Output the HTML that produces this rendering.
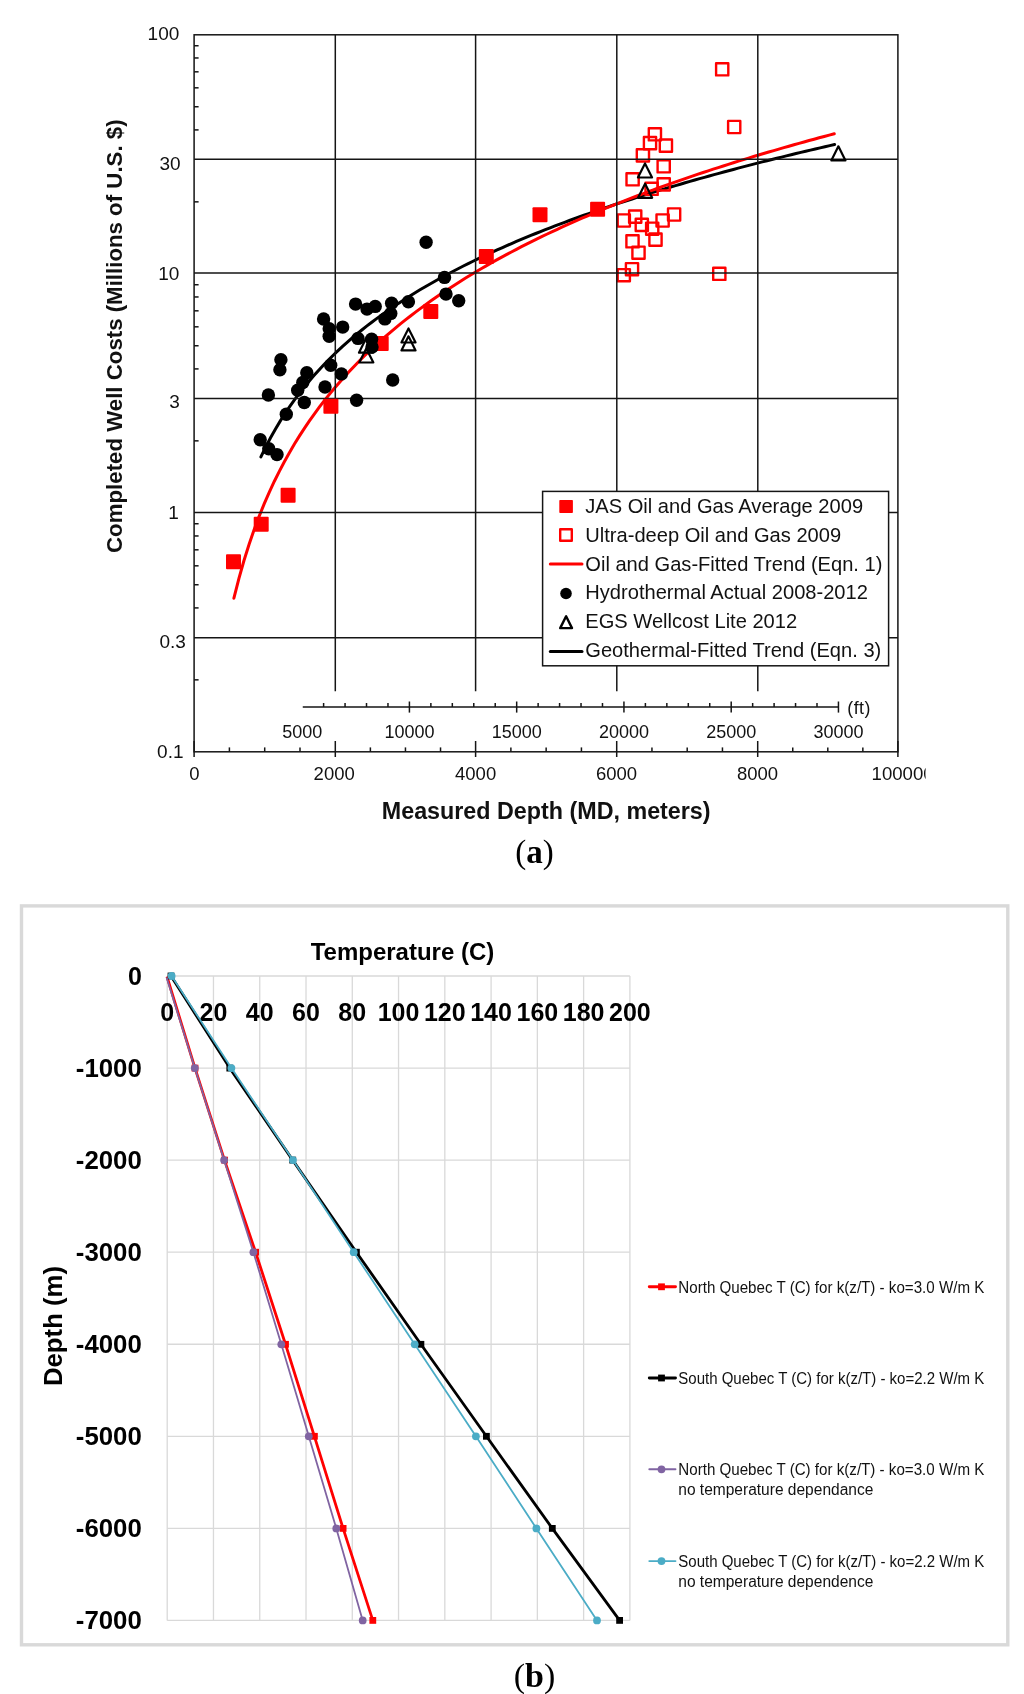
<!DOCTYPE html>
<html><head><meta charset="utf-8"><title>Well costs and temperature profiles</title>
<style>html,body{margin:0;padding:0;background:#fff;width:1024px;height:1694px;overflow:hidden}svg{display:block;will-change:transform}</style>
</head><body>
<svg width="1024" height="1694" viewBox="0 0 1024 1694">
<rect width="1024" height="1694" fill="#fff"/>
<path d="M260.90,456.92 L265.72,447.00 L270.54,437.79 L275.36,429.19 L280.18,421.14 L285.01,413.56 L289.83,406.40 L294.65,399.62 L299.47,393.18 L304.29,387.04 L309.11,381.18 L313.93,375.58 L318.75,370.20 L323.57,365.04 L328.39,360.08 L333.22,355.30 L338.04,350.68 L342.86,346.22 L347.68,341.91 L352.50,337.74 L357.32,333.69 L362.14,329.76 L366.96,325.94 L371.78,322.23 L376.60,318.62 L381.43,315.10 L386.25,311.68 L391.07,308.33 L395.89,305.07 L400.71,301.89 L405.53,298.77 L410.35,295.73 L415.17,292.75 L419.99,289.84 L424.81,286.98 L429.64,284.18 L434.46,281.44 L439.28,278.75 L444.10,276.12 L448.92,273.53 L453.74,270.98 L458.56,268.49 L463.38,266.03 L468.20,263.62 L473.02,261.25 L477.85,258.91 L482.67,256.62 L487.49,254.36 L492.31,252.13 L497.13,249.94 L501.95,247.78 L506.77,245.66 L511.59,243.56 L516.41,241.49 L521.23,239.46 L526.06,237.45 L530.88,235.47 L535.70,233.51 L540.52,231.58 L545.34,229.67 L550.16,227.79 L554.98,225.93 L559.80,224.10 L564.62,222.29 L569.44,220.50 L574.27,218.73 L579.09,216.98 L583.91,215.25 L588.73,213.54 L593.55,211.85 L598.37,210.17 L603.19,208.52 L608.01,206.88 L612.83,205.26 L617.65,203.66 L622.48,202.08 L627.30,200.51 L632.12,198.95 L636.94,197.41 L641.76,195.89 L646.58,194.38 L651.40,192.89 L656.22,191.41 L661.04,189.94 L665.86,188.49 L670.69,187.05 L675.51,185.63 L680.33,184.21 L685.15,182.81 L689.97,181.42 L694.79,180.05 L699.61,178.68 L704.43,177.33 L709.25,175.99 L714.07,174.66 L718.90,173.34 L723.72,172.03 L728.54,170.73 L733.36,169.44 L738.18,168.16 L743.00,166.89 L747.82,165.64 L752.64,164.39 L757.46,163.15 L762.28,161.92 L767.11,160.70 L771.93,159.49 L776.75,158.28 L781.57,157.09 L786.39,155.91 L791.21,154.73 L796.03,153.56 L800.85,152.40 L805.67,151.25 L810.49,150.10 L815.32,148.97 L820.14,147.84 L824.96,146.72 L829.78,145.60 L834.60,144.50" stroke="#000" stroke-width="3" fill="none" stroke-linecap="round"/>
<path d="M233.90,598.23 L238.95,578.30 L243.99,560.51 L249.04,544.44 L254.08,529.79 L259.13,516.33 L264.17,503.88 L269.22,492.30 L274.26,481.47 L279.31,471.31 L284.35,461.73 L289.40,452.67 L294.44,444.08 L299.49,435.91 L304.54,428.12 L309.58,420.68 L314.63,413.56 L319.67,406.73 L324.72,400.17 L329.76,393.86 L334.81,387.77 L339.85,381.90 L344.90,376.23 L349.94,370.74 L354.99,365.43 L360.03,360.28 L365.08,355.29 L370.13,350.44 L375.17,345.72 L380.22,341.14 L385.26,336.68 L390.31,332.33 L395.35,328.09 L400.40,323.96 L405.44,319.92 L410.49,315.98 L415.53,312.13 L420.58,308.37 L425.62,304.69 L430.67,301.08 L435.72,297.56 L440.76,294.10 L445.81,290.72 L450.85,287.40 L455.90,284.14 L460.94,280.95 L465.99,277.81 L471.03,274.74 L476.08,271.71 L481.12,268.75 L486.17,265.83 L491.21,262.96 L496.26,260.14 L501.31,257.37 L506.35,254.64 L511.40,251.95 L516.44,249.31 L521.49,246.70 L526.53,244.14 L531.58,241.61 L536.62,239.12 L541.67,236.67 L546.71,234.25 L551.76,231.87 L556.80,229.52 L561.85,227.20 L566.89,224.91 L571.94,222.65 L576.99,220.42 L582.03,218.22 L587.08,216.05 L592.12,213.91 L597.17,211.79 L602.21,209.70 L607.26,207.64 L612.30,205.60 L617.35,203.58 L622.39,201.59 L627.44,199.62 L632.48,197.67 L637.53,195.74 L642.58,193.84 L647.62,191.95 L652.67,190.09 L657.71,188.25 L662.76,186.43 L667.80,184.62 L672.85,182.84 L677.89,181.07 L682.94,179.32 L687.98,177.59 L693.03,175.88 L698.07,174.18 L703.12,172.50 L708.17,170.84 L713.21,169.19 L718.26,167.56 L723.30,165.95 L728.35,164.35 L733.39,162.76 L738.44,161.19 L743.48,159.63 L748.53,158.09 L753.57,156.56 L758.62,155.04 L763.66,153.54 L768.71,152.05 L773.76,150.57 L778.80,149.11 L783.85,147.65 L788.89,146.21 L793.94,144.79 L798.98,143.37 L804.03,141.97 L809.07,140.57 L814.12,139.19 L819.16,137.82 L824.21,136.46 L829.25,135.11 L834.30,133.77" stroke="#f00" stroke-width="3" fill="none" stroke-linecap="round"/>
<g fill="none" stroke="#f00" stroke-width="2.4" stroke-linejoin="round">
<rect x="716.10" y="63.20" width="12.2" height="12.2"/>
<rect x="728.10" y="120.90" width="12.2" height="12.2"/>
<rect x="648.80" y="128.20" width="12.2" height="12.2"/>
<rect x="643.90" y="137.00" width="12.2" height="12.2"/>
<rect x="659.80" y="139.50" width="12.2" height="12.2"/>
<rect x="636.80" y="149.30" width="12.2" height="12.2"/>
<rect x="657.60" y="160.20" width="12.2" height="12.2"/>
<rect x="626.50" y="173.20" width="12.2" height="12.2"/>
<rect x="657.60" y="178.30" width="12.2" height="12.2"/>
<rect x="645.50" y="182.70" width="12.2" height="12.2"/>
<rect x="668.00" y="208.40" width="12.2" height="12.2"/>
<rect x="629.10" y="210.50" width="12.2" height="12.2"/>
<rect x="617.70" y="214.40" width="12.2" height="12.2"/>
<rect x="656.50" y="214.40" width="12.2" height="12.2"/>
<rect x="635.70" y="218.80" width="12.2" height="12.2"/>
<rect x="646.10" y="222.60" width="12.2" height="12.2"/>
<rect x="626.40" y="235.20" width="12.2" height="12.2"/>
<rect x="649.40" y="233.50" width="12.2" height="12.2"/>
<rect x="632.40" y="246.60" width="12.2" height="12.2"/>
<rect x="625.90" y="263.10" width="12.2" height="12.2"/>
<rect x="617.70" y="269.10" width="12.2" height="12.2"/>
<rect x="713.20" y="267.70" width="12.2" height="12.2"/>
</g>
<g stroke="#151515" stroke-width="1.5" fill="none">
<line x1="194.1" y1="159.2" x2="897.9" y2="159.2"/>
<line x1="194.1" y1="273.1" x2="897.9" y2="273.1"/>
<line x1="194.1" y1="398.6" x2="897.9" y2="398.6"/>
<line x1="194.1" y1="512.4" x2="897.9" y2="512.4"/>
<line x1="194.1" y1="637.8" x2="897.9" y2="637.8"/>
<line x1="335.3" y1="34.8" x2="335.3" y2="691.3"/>
<line x1="475.6" y1="34.8" x2="475.6" y2="691.3"/>
<line x1="616.8" y1="34.8" x2="616.8" y2="691.3"/>
<line x1="757.8" y1="34.8" x2="757.8" y2="691.3"/>
<rect x="194.1" y="34.8" width="703.8" height="717.0"/>
<line x1="194.1" y1="45.74" x2="198.6" y2="45.74"/>
<line x1="194.1" y1="57.96" x2="198.6" y2="57.96"/>
<line x1="194.1" y1="71.82" x2="198.6" y2="71.82"/>
<line x1="194.1" y1="87.82" x2="198.6" y2="87.82"/>
<line x1="194.1" y1="106.75" x2="198.6" y2="106.75"/>
<line x1="194.1" y1="129.91" x2="198.6" y2="129.91"/>
<line x1="194.1" y1="201.85" x2="198.6" y2="201.85"/>
<line x1="194.1" y1="284.74" x2="198.6" y2="284.74"/>
<line x1="194.1" y1="296.96" x2="198.6" y2="296.96"/>
<line x1="194.1" y1="310.82" x2="198.6" y2="310.82"/>
<line x1="194.1" y1="326.82" x2="198.6" y2="326.82"/>
<line x1="194.1" y1="345.75" x2="198.6" y2="345.75"/>
<line x1="194.1" y1="368.91" x2="198.6" y2="368.91"/>
<line x1="194.1" y1="440.85" x2="198.6" y2="440.85"/>
<line x1="194.1" y1="523.74" x2="198.6" y2="523.74"/>
<line x1="194.1" y1="535.96" x2="198.6" y2="535.96"/>
<line x1="194.1" y1="549.82" x2="198.6" y2="549.82"/>
<line x1="194.1" y1="565.82" x2="198.6" y2="565.82"/>
<line x1="194.1" y1="584.75" x2="198.6" y2="584.75"/>
<line x1="194.1" y1="607.91" x2="198.6" y2="607.91"/>
<line x1="194.1" y1="679.85" x2="198.6" y2="679.85"/>
<line x1="194.10" y1="741" x2="194.10" y2="757"/>
<line x1="229.40" y1="747.4" x2="229.40" y2="751.8"/>
<line x1="264.70" y1="747.4" x2="264.70" y2="751.8"/>
<line x1="300.00" y1="747.4" x2="300.00" y2="751.8"/>
<line x1="335.30" y1="741" x2="335.30" y2="757"/>
<line x1="370.38" y1="747.4" x2="370.38" y2="751.8"/>
<line x1="405.45" y1="747.4" x2="405.45" y2="751.8"/>
<line x1="440.53" y1="747.4" x2="440.53" y2="751.8"/>
<line x1="475.60" y1="741" x2="475.60" y2="757"/>
<line x1="510.88" y1="747.4" x2="510.88" y2="751.8"/>
<line x1="546.15" y1="747.4" x2="546.15" y2="751.8"/>
<line x1="581.43" y1="747.4" x2="581.43" y2="751.8"/>
<line x1="616.70" y1="741" x2="616.70" y2="757"/>
<line x1="651.95" y1="747.4" x2="651.95" y2="751.8"/>
<line x1="687.20" y1="747.4" x2="687.20" y2="751.8"/>
<line x1="722.45" y1="747.4" x2="722.45" y2="751.8"/>
<line x1="757.70" y1="741" x2="757.70" y2="757"/>
<line x1="792.75" y1="747.4" x2="792.75" y2="751.8"/>
<line x1="827.80" y1="747.4" x2="827.80" y2="751.8"/>
<line x1="862.85" y1="747.4" x2="862.85" y2="751.8"/>
<line x1="897.90" y1="741" x2="897.90" y2="757"/>
<line x1="302.76" y1="707" x2="838.45" y2="707"/>
<line x1="323.61" y1="703" x2="323.61" y2="707"/>
<line x1="345.06" y1="703" x2="345.06" y2="707"/>
<line x1="366.51" y1="703" x2="366.51" y2="707"/>
<line x1="387.97" y1="703" x2="387.97" y2="707"/>
<line x1="409.42" y1="701.5" x2="409.42" y2="712.6"/>
<line x1="430.87" y1="703" x2="430.87" y2="707"/>
<line x1="452.32" y1="703" x2="452.32" y2="707"/>
<line x1="473.77" y1="703" x2="473.77" y2="707"/>
<line x1="495.23" y1="703" x2="495.23" y2="707"/>
<line x1="516.68" y1="701.5" x2="516.68" y2="712.6"/>
<line x1="538.13" y1="703" x2="538.13" y2="707"/>
<line x1="559.58" y1="703" x2="559.58" y2="707"/>
<line x1="581.03" y1="703" x2="581.03" y2="707"/>
<line x1="602.48" y1="703" x2="602.48" y2="707"/>
<line x1="623.94" y1="701.5" x2="623.94" y2="712.6"/>
<line x1="645.39" y1="703" x2="645.39" y2="707"/>
<line x1="666.84" y1="703" x2="666.84" y2="707"/>
<line x1="688.29" y1="703" x2="688.29" y2="707"/>
<line x1="709.74" y1="703" x2="709.74" y2="707"/>
<line x1="731.20" y1="701.5" x2="731.20" y2="712.6"/>
<line x1="752.65" y1="703" x2="752.65" y2="707"/>
<line x1="774.10" y1="703" x2="774.10" y2="707"/>
<line x1="795.55" y1="703" x2="795.55" y2="707"/>
<line x1="817.00" y1="703" x2="817.00" y2="707"/>
<line x1="838.45" y1="701.5" x2="838.45" y2="712.6"/>
</g>
<g font-family="Liberation Sans" fill="#111">
<text x="147.6" y="40.3" font-size="19">100</text>
<text x="159.4" y="169.7" font-size="19">30</text>
<text x="158.2" y="279.7" font-size="19">10</text>
<text x="169.2" y="407.5" font-size="19">3</text>
<text x="168.3" y="518.8" font-size="19">1</text>
<text x="159.4" y="647.7" font-size="19">0.3</text>
<text x="157.1" y="757.5" font-size="19">0.1</text>
<text x="194.5" y="780.2" font-size="18.5" text-anchor="middle">0</text>
<text x="334.2" y="780.2" font-size="18.5" text-anchor="middle">2000</text>
<text x="475.6" y="780.2" font-size="18.5" text-anchor="middle">4000</text>
<text x="616.5" y="780.2" font-size="18.5" text-anchor="middle">6000</text>
<text x="757.5" y="780.2" font-size="18.5" text-anchor="middle">8000</text>
<clipPath id="cl"><rect x="800" y="755" width="125.6" height="40"/></clipPath>
<text x="871.6" y="780.2" font-size="18.6" clip-path="url(#cl)">100000</text>
<text x="302.16" y="738.2" font-size="18" text-anchor="middle">5000</text>
<text x="409.42" y="738.2" font-size="18" text-anchor="middle">10000</text>
<text x="516.68" y="738.2" font-size="18" text-anchor="middle">15000</text>
<text x="623.94" y="738.2" font-size="18" text-anchor="middle">20000</text>
<text x="731.20" y="738.2" font-size="18" text-anchor="middle">25000</text>
<text x="838.45" y="738.2" font-size="18" text-anchor="middle">30000</text>
<text x="847.3" y="714" font-size="17.8" textLength="23" lengthAdjust="spacing">(ft)</text>
<text transform="translate(122.3,336.2) rotate(-90)" font-size="22.25" font-weight="bold" text-anchor="middle">Completed Well Costs (Millions of U.S. $)</text>
<text x="546.2" y="818.6" font-size="23.3" font-weight="bold" text-anchor="middle">Measured Depth (MD, meters)</text>
</g>
<rect x="226.00" y="554.20" width="15.0" height="15.0" rx="1" fill="#f00"/>
<rect x="253.70" y="516.70" width="15.0" height="15.0" rx="1" fill="#f00"/>
<rect x="280.60" y="487.80" width="15.0" height="15.0" rx="1" fill="#f00"/>
<rect x="323.40" y="398.70" width="15.0" height="15.0" rx="1" fill="#f00"/>
<rect x="373.70" y="335.90" width="15.0" height="15.0" rx="1" fill="#f00"/>
<rect x="423.30" y="303.90" width="15.0" height="15.0" rx="1" fill="#f00"/>
<rect x="478.80" y="249.10" width="15.0" height="15.0" rx="1" fill="#f00"/>
<rect x="532.50" y="207.30" width="15.0" height="15.0" rx="1" fill="#f00"/>
<rect x="590.10" y="201.80" width="15.0" height="15.0" rx="1" fill="#f00"/>
<path d="M645.00,163.40 L637.95,177.50 L652.05,177.50 Z" fill="none" stroke="#000" stroke-width="2.2" stroke-linejoin="round"/>
<path d="M645.10,183.70 L638.05,197.80 L652.15,197.80 Z" fill="none" stroke="#000" stroke-width="2.2" stroke-linejoin="round"/>
<path d="M838.40,146.30 L831.35,160.40 L845.45,160.40 Z" fill="none" stroke="#000" stroke-width="2.2" stroke-linejoin="round"/>
<path d="M408.50,328.40 L401.45,342.50 L415.55,342.50 Z" fill="none" stroke="#000" stroke-width="2.2" stroke-linejoin="round"/>
<path d="M408.50,336.30 L401.45,350.40 L415.55,350.40 Z" fill="none" stroke="#000" stroke-width="2.2" stroke-linejoin="round"/>
<path d="M366.00,338.60 L358.95,352.70 L373.05,352.70 Z" fill="none" stroke="#000" stroke-width="2.2" stroke-linejoin="round"/>
<path d="M366.30,348.40 L359.25,362.50 L373.35,362.50 Z" fill="none" stroke="#000" stroke-width="2.2" stroke-linejoin="round"/>
<circle cx="426.1" cy="242.3" r="6.7" fill="#000"/>
<circle cx="444.5" cy="277.4" r="6.7" fill="#000"/>
<circle cx="446.0" cy="294.1" r="6.7" fill="#000"/>
<circle cx="458.7" cy="300.8" r="6.7" fill="#000"/>
<circle cx="408.4" cy="301.7" r="6.7" fill="#000"/>
<circle cx="391.6" cy="303.3" r="6.7" fill="#000"/>
<circle cx="390.8" cy="313.4" r="6.7" fill="#000"/>
<circle cx="384.9" cy="318.9" r="6.7" fill="#000"/>
<circle cx="355.6" cy="304.1" r="6.7" fill="#000"/>
<circle cx="367.0" cy="309.1" r="6.7" fill="#000"/>
<circle cx="375.2" cy="306.4" r="6.7" fill="#000"/>
<circle cx="323.6" cy="319.0" r="6.7" fill="#000"/>
<circle cx="329.2" cy="328.7" r="6.7" fill="#000"/>
<circle cx="342.7" cy="327.1" r="6.7" fill="#000"/>
<circle cx="329.2" cy="336.3" r="6.7" fill="#000"/>
<circle cx="358.0" cy="338.4" r="6.7" fill="#000"/>
<circle cx="371.6" cy="339.2" r="6.7" fill="#000"/>
<circle cx="372.0" cy="347.0" r="6.7" fill="#000"/>
<circle cx="280.9" cy="359.7" r="6.7" fill="#000"/>
<circle cx="279.9" cy="369.8" r="6.7" fill="#000"/>
<circle cx="330.7" cy="365.3" r="6.7" fill="#000"/>
<circle cx="306.8" cy="372.8" r="6.7" fill="#000"/>
<circle cx="341.4" cy="373.9" r="6.7" fill="#000"/>
<circle cx="302.8" cy="382.5" r="6.7" fill="#000"/>
<circle cx="297.7" cy="390.2" r="6.7" fill="#000"/>
<circle cx="325.0" cy="387.0" r="6.7" fill="#000"/>
<circle cx="392.7" cy="380.0" r="6.7" fill="#000"/>
<circle cx="268.4" cy="395.0" r="6.7" fill="#000"/>
<circle cx="304.3" cy="402.5" r="6.7" fill="#000"/>
<circle cx="356.6" cy="400.3" r="6.7" fill="#000"/>
<circle cx="286.3" cy="414.3" r="6.7" fill="#000"/>
<circle cx="260.2" cy="439.8" r="6.7" fill="#000"/>
<circle cx="268.75" cy="448.75" r="6.7" fill="#000"/>
<circle cx="277.0" cy="454.6" r="6.7" fill="#000"/>
<rect x="542.6" y="491.4" width="346" height="174.4" fill="#fff" stroke="#151515" stroke-width="1.5"/>
<rect x="559.3" y="499.9" width="13.6" height="13.2" rx="0.8" fill="#f00"/>
<rect x="560.2" y="529.2" width="11.6" height="11.6" fill="none" stroke="#f00" stroke-width="2.4" stroke-linejoin="round"/>
<line x1="550.3" y1="563.9" x2="582.0" y2="563.9" stroke="#f00" stroke-width="3" stroke-linecap="round"/>
<circle cx="566" cy="593.5" r="5.8" fill="#000"/>
<path d="M566.10,616.30 L560.20,628.10 L572.00,628.10 Z" fill="none" stroke="#000" stroke-width="2.4" stroke-linejoin="round"/>
<line x1="550.3" y1="651.4" x2="582.0" y2="651.4" stroke="#000" stroke-width="3" stroke-linecap="round"/>
<g font-family="Liberation Sans" font-size="20.1" fill="#111">
<text x="585.3" y="513.40">JAS Oil and Gas Average 2009</text>
<text x="585.3" y="542.06">Ultra-deep Oil and Gas 2009</text>
<text x="585.3" y="570.72">Oil and Gas-Fitted Trend (Eqn. 1)</text>
<text x="585.3" y="599.38">Hydrothermal Actual 2008-2012</text>
<text x="585.3" y="628.04">EGS Wellcost Lite 2012</text>
<text x="585.3" y="656.70">Geothermal-Fitted Trend (Eqn. 3)</text>
</g>
<text x="534.5" y="863.3" font-family="Liberation Serif" font-size="33" text-anchor="middle" fill="#000">(<tspan font-weight="bold">a</tspan>)</text>
<rect x="21.5" y="905.9" width="986.3" height="738.9" fill="none" stroke="#d9d9d9" stroke-width="3.4"/>
<g stroke="#d9d9d9" stroke-width="1.3">
<line x1="167.20" y1="976.00" x2="629.90" y2="976.00"/>
<line x1="167.20" y1="1068.06" x2="629.90" y2="1068.06"/>
<line x1="167.20" y1="1160.12" x2="629.90" y2="1160.12"/>
<line x1="167.20" y1="1252.18" x2="629.90" y2="1252.18"/>
<line x1="167.20" y1="1344.24" x2="629.90" y2="1344.24"/>
<line x1="167.20" y1="1436.30" x2="629.90" y2="1436.30"/>
<line x1="167.20" y1="1528.36" x2="629.90" y2="1528.36"/>
<line x1="167.20" y1="1620.42" x2="629.90" y2="1620.42"/>
<line x1="167.20" y1="976.00" x2="167.20" y2="1620.42"/>
<line x1="213.47" y1="976.00" x2="213.47" y2="1620.42"/>
<line x1="259.74" y1="976.00" x2="259.74" y2="1620.42"/>
<line x1="306.01" y1="976.00" x2="306.01" y2="1620.42"/>
<line x1="352.28" y1="976.00" x2="352.28" y2="1620.42"/>
<line x1="398.55" y1="976.00" x2="398.55" y2="1620.42"/>
<line x1="444.82" y1="976.00" x2="444.82" y2="1620.42"/>
<line x1="491.09" y1="976.00" x2="491.09" y2="1620.42"/>
<line x1="537.36" y1="976.00" x2="537.36" y2="1620.42"/>
<line x1="583.63" y1="976.00" x2="583.63" y2="1620.42"/>
<line x1="629.90" y1="976.00" x2="629.90" y2="1620.42"/>
</g>
<g font-family="Liberation Sans" font-weight="bold" fill="#000">
<text x="402.5" y="959.7" font-size="24" text-anchor="middle">Temperature (C)</text>
<text x="167.20" y="1020.5" font-size="25" text-anchor="middle">0</text>
<text x="213.47" y="1020.5" font-size="25" text-anchor="middle">20</text>
<text x="259.74" y="1020.5" font-size="25" text-anchor="middle">40</text>
<text x="306.01" y="1020.5" font-size="25" text-anchor="middle">60</text>
<text x="352.28" y="1020.5" font-size="25" text-anchor="middle">80</text>
<text x="398.55" y="1020.5" font-size="25" text-anchor="middle">100</text>
<text x="444.82" y="1020.5" font-size="25" text-anchor="middle">120</text>
<text x="491.09" y="1020.5" font-size="25" text-anchor="middle">140</text>
<text x="537.36" y="1020.5" font-size="25" text-anchor="middle">160</text>
<text x="583.63" y="1020.5" font-size="25" text-anchor="middle">180</text>
<text x="629.90" y="1020.5" font-size="25" text-anchor="middle">200</text>
<text x="141.8" y="985.00" font-size="25" text-anchor="end">0</text>
<text x="141.8" y="1077.06" font-size="25" text-anchor="end" textLength="66" lengthAdjust="spacingAndGlyphs">-1000</text>
<text x="141.8" y="1169.12" font-size="25" text-anchor="end" textLength="66" lengthAdjust="spacingAndGlyphs">-2000</text>
<text x="141.8" y="1261.18" font-size="25" text-anchor="end" textLength="66" lengthAdjust="spacingAndGlyphs">-3000</text>
<text x="141.8" y="1353.24" font-size="25" text-anchor="end" textLength="66" lengthAdjust="spacingAndGlyphs">-4000</text>
<text x="141.8" y="1445.30" font-size="25" text-anchor="end" textLength="66" lengthAdjust="spacingAndGlyphs">-5000</text>
<text x="141.8" y="1537.36" font-size="25" text-anchor="end" textLength="66" lengthAdjust="spacingAndGlyphs">-6000</text>
<text x="141.8" y="1629.42" font-size="25" text-anchor="end" textLength="66" lengthAdjust="spacingAndGlyphs">-7000</text>
<text transform="translate(62,1326) rotate(-90)" font-size="25.4" text-anchor="middle" textLength="120" lengthAdjust="spacingAndGlyphs">Depth (m)</text>
</g>
<polyline points="167.0,976.6 195.0,1068.1 224.5,1160.1 255.6,1252.2 285.5,1344.3 314.4,1436.3 343.1,1528.4 372.8,1620.4" fill="none" stroke="#f00" stroke-width="2.8" stroke-linejoin="round"/>
<rect x="191.60" y="1064.70" width="6.8" height="6.8" fill="#f00"/>
<rect x="221.10" y="1156.70" width="6.8" height="6.8" fill="#f00"/>
<rect x="252.20" y="1248.80" width="6.8" height="6.8" fill="#f00"/>
<rect x="282.10" y="1340.90" width="6.8" height="6.8" fill="#f00"/>
<rect x="311.00" y="1432.90" width="6.8" height="6.8" fill="#f00"/>
<rect x="339.70" y="1525.00" width="6.8" height="6.8" fill="#f00"/>
<rect x="369.40" y="1617.00" width="6.8" height="6.8" fill="#f00"/>
<polyline points="171.0,976.0 229.8,1068.1 292.7,1160.1 356.4,1252.2 420.9,1344.3 486.4,1436.3 552.3,1528.4 619.6,1620.4" fill="none" stroke="#000" stroke-width="2.8" stroke-linejoin="round"/>
<rect x="167.60" y="972.60" width="6.8" height="6.8" fill="#000"/>
<rect x="226.40" y="1064.70" width="6.8" height="6.8" fill="#000"/>
<rect x="289.30" y="1156.70" width="6.8" height="6.8" fill="#000"/>
<rect x="353.00" y="1248.80" width="6.8" height="6.8" fill="#000"/>
<rect x="417.50" y="1340.90" width="6.8" height="6.8" fill="#000"/>
<rect x="483.00" y="1432.90" width="6.8" height="6.8" fill="#000"/>
<rect x="548.90" y="1525.00" width="6.8" height="6.8" fill="#000"/>
<rect x="616.20" y="1617.00" width="6.8" height="6.8" fill="#000"/>
<polyline points="166.6,977.5 194.8,1068.1 224.1,1160.1 253.4,1252.2 281.3,1344.3 308.8,1436.3 336.3,1528.4 362.7,1620.4" fill="none" stroke="#8064a2" stroke-width="1.8" stroke-linejoin="round"/>
<circle cx="194.8" cy="1068.1" r="3.9" fill="#8064a2"/>
<circle cx="224.1" cy="1160.1" r="3.9" fill="#8064a2"/>
<circle cx="253.4" cy="1252.2" r="3.9" fill="#8064a2"/>
<circle cx="281.3" cy="1344.3" r="3.9" fill="#8064a2"/>
<circle cx="308.8" cy="1436.3" r="3.9" fill="#8064a2"/>
<circle cx="336.3" cy="1528.4" r="3.9" fill="#8064a2"/>
<circle cx="362.7" cy="1620.4" r="3.9" fill="#8064a2"/>
<polyline points="171.6,976.0 231.4,1068.1 292.9,1160.1 353.7,1252.2 414.7,1344.3 475.9,1436.3 536.4,1528.4 597.0,1620.4" fill="none" stroke="#4bacc6" stroke-width="1.8" stroke-linejoin="round"/>
<circle cx="171.6" cy="976.0" r="3.9" fill="#4bacc6"/>
<circle cx="231.4" cy="1068.1" r="3.9" fill="#4bacc6"/>
<circle cx="292.9" cy="1160.1" r="3.9" fill="#4bacc6"/>
<circle cx="353.7" cy="1252.2" r="3.9" fill="#4bacc6"/>
<circle cx="414.7" cy="1344.3" r="3.9" fill="#4bacc6"/>
<circle cx="475.9" cy="1436.3" r="3.9" fill="#4bacc6"/>
<circle cx="536.4" cy="1528.4" r="3.9" fill="#4bacc6"/>
<circle cx="597.0" cy="1620.4" r="3.9" fill="#4bacc6"/>
<g font-family="Liberation Sans" font-size="16" fill="#111">
<line x1="649.3" y1="1286.8" x2="675.5" y2="1286.8" stroke="#f00" stroke-width="2.9" stroke-linecap="round"/>
<rect x="658.1" y="1283.3999999999999" width="6.8" height="6.8" fill="#f00"/>
<text x="678.3" y="1292.60" textLength="306" lengthAdjust="spacingAndGlyphs">North Quebec T (C) for k(z/T) - ko=3.0 W/m K</text>
<line x1="649.3" y1="1378.0" x2="675.5" y2="1378.0" stroke="#000" stroke-width="2.9" stroke-linecap="round"/>
<rect x="658.1" y="1374.6" width="6.8" height="6.8" fill="#000"/>
<text x="678.3" y="1383.80" textLength="306" lengthAdjust="spacingAndGlyphs">South Quebec T (C) for k(z/T) - ko=2.2 W/m K</text>
<line x1="649.3" y1="1469.3" x2="675.5" y2="1469.3" stroke="#8064a2" stroke-width="1.9" stroke-linecap="round"/>
<circle cx="661.5" cy="1469.3" r="3.9" fill="#8064a2"/>
<text x="678.3" y="1475.10" textLength="306" lengthAdjust="spacingAndGlyphs">North Quebec T (C) for k(z/T) - ko=3.0 W/m K</text>
<text x="678.3" y="1495.30" textLength="195" lengthAdjust="spacingAndGlyphs">no temperature dependance</text>
<line x1="649.3" y1="1561.1" x2="675.5" y2="1561.1" stroke="#4bacc6" stroke-width="1.9" stroke-linecap="round"/>
<circle cx="661.5" cy="1561.1" r="3.9" fill="#4bacc6"/>
<text x="678.3" y="1566.90" textLength="306" lengthAdjust="spacingAndGlyphs">South Quebec T (C) for k(z/T) - ko=2.2 W/m K</text>
<text x="678.3" y="1587.10" textLength="195" lengthAdjust="spacingAndGlyphs">no temperature dependence</text>
</g>
<text x="534.5" y="1686.5" font-family="Liberation Serif" font-size="34" text-anchor="middle" fill="#000">(<tspan font-weight="bold">b</tspan>)</text>
</svg>
</body></html>
